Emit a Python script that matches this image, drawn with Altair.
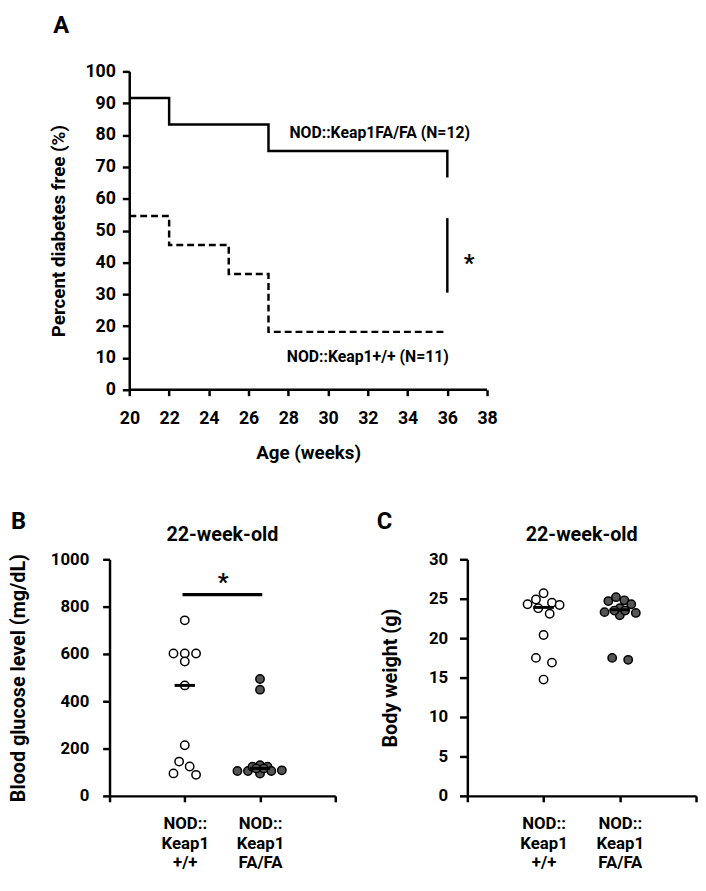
import altair as alt
import pandas as pd

FONT = "Roboto, Liberation Sans, DejaVu Sans, sans-serif"

# ---------------- Panel A: survival curves ----------------
fa_weeks = [20, 22, 27, 36, 36]
fa_free = [91.67, 83.33, 75.0, 75.0, 66.67]
wt_weeks = [20, 22, 25, 27, 36]
wt_free = [54.55, 45.45, 36.36, 18.18, 18.18]
a_x_ticks = [20, 22, 24, 26, 28, 30, 32, 34, 36, 38]
a_y_ticks = [0, 10, 20, 30, 40, 50, 60, 70, 80, 90, 100]
a_x_axis_line = [20, 38]
a_labels = ["NOD::Keap1FA/FA (N=12)", "NOD::Keap1+/+ (N=11)"]
a_label_x = [32.6, 32.0]
a_label_y = [80.7, 10.3]
a_sig_x = [36.0]
a_sig_lo = [30.5]
a_sig_hi = [53.9]
a_star_x = [37.1]
a_star_y = [39.5]

# ---------------- Panels B and C: dot plots ----------------
groups = ["+/+", "FA/FA"]
group_pos = [1, 2]
glu_wt = [742, 602, 602, 602, 568, 467, 214, 145, 124, 95, 89]
glu_wt_dx = [0, -0.15, 0, 0.15, 0, 0, 0, -0.075, 0.065, -0.15, 0.15]
glu_fa = [494, 449, 105, 105, 123, 130, 123, 105, 108, 94, 116, 116]
glu_fa_dx = [0, 0, -0.30, -0.16, -0.10, 0, 0.10, 0.15, 0.29, 0, -0.05, 0.05]
glu_median = [467, 116]

bw_wt = [25.7, 24.9, 24.5, 24.3, 24.2, 23.8, 23.1, 20.4, 17.5, 16.9, 14.75]
bw_wt_dx = [0, -0.10, 0.11, -0.21, 0.21, -0.07, 0.08, 0, -0.10, 0.11, 0]
bw_fa = [24.7, 25.2, 24.8, 24.3, 23.3, 23.8, 22.9, 23.2, 17.5, 17.25, 23.5, 23.5]
bw_fa_dx = [-0.15, -0.05, 0.06, 0.15, -0.20, 0, 0, 0.21, -0.10, 0.11, -0.07, 0.07]
bw_median = [23.9, 23.6]

b_sig_x = [0.97]
b_sig_x2 = [2.03]
b_sig_y = [851]
b_star_x = [1.51]
b_star_y = [900]

BLACK = "black"


def letter(ch, x, y, size=24):
    return alt.Chart(pd.DataFrame({"t": [ch]})).mark_text(
        align="left", baseline="top", font=FONT, fontSize=size,
        fontWeight="bold", color=BLACK
    ).encode(x=alt.value(x), y=alt.value(y), text="t:N")


# ---------- Panel A ----------
# plot area starts 1 week left of the y axis so that the axis lines up with panel B's layout
W_A, H_A = 383, 323
xa = alt.X("week:Q", scale=alt.Scale(domain=[19, 38], nice=False, zero=False),
           axis=alt.Axis(values=a_x_ticks, title="Age (weeks)", labelFontSize=18,
                         titleFontSize=19, labelPadding=14, titlePadding=17,
                         tickSize=6, labelFlush=False, domain=False,
                         titleX=(W_A + 20) / 2))
ya = alt.Y("free:Q", scale=alt.Scale(domain=[0, 100], nice=False),
           axis=alt.Axis(values=a_y_ticks, title="Percent diabetes free (%)",
                         labelFontSize=18, titleFontSize=19, labelPadding=7,
                         titlePadding=17, tickSize=7, offset=-20))

df_fa = pd.DataFrame({"week": fa_weeks, "free": fa_free, "o": list(range(len(fa_weeks)))})
df_wt = pd.DataFrame({"week": wt_weeks, "free": wt_free, "o": list(range(len(wt_weeks)))})

line_fa = alt.Chart(df_fa).mark_line(interpolate="step-after", color=BLACK, strokeWidth=2.5).encode(
    x=xa, y=ya, order="o:Q")
line_wt = alt.Chart(df_wt).mark_line(interpolate="step-after", color=BLACK, strokeWidth=2.5,
                                     strokeDash=[7, 4]).encode(x=xa, y=ya, order="o:Q")

df_axis = pd.DataFrame({"week": [a_x_axis_line[0]], "week2": [a_x_axis_line[1]], "free": [0]})
x_line = alt.Chart(df_axis).mark_rule(color=BLACK, strokeWidth=2.5).encode(
    x=xa, x2="week2:Q", y=ya)

df_lab = pd.DataFrame({"week": a_label_x, "free": a_label_y, "label": a_labels})
labels_a = alt.Chart(df_lab).mark_text(font=FONT, fontSize=16, fontWeight="bold",
                                       color=BLACK, baseline="middle").encode(
    x=xa, y=ya, text="label:N")

df_sig_a = pd.DataFrame({"week": a_sig_x, "free": a_sig_lo, "free2": a_sig_hi})
sig_a = alt.Chart(df_sig_a).mark_rule(color=BLACK, strokeWidth=2.5).encode(
    x=xa, y=ya, y2="free2:Q")
df_star_a = pd.DataFrame({"week": a_star_x, "free": a_star_y, "s": ["*"]})
star_a = alt.Chart(df_star_a).mark_text(font=FONT, fontSize=24, fontWeight="bold",
                                        color=BLACK, baseline="middle").encode(
    x=xa, y=ya, text="s:N")

panel_a = alt.layer(x_line, line_fa, line_wt, labels_a, sig_a, star_a,
                    letter("A", -57, -58)).properties(width=W_A, height=H_A)


# ---------- Panels B / C ----------
def dot_panel(v_wt, dx_wt, v_fa, dx_fa, med, ymax, ystep, ytitle, ch, W, H,
              ylab_pad, ytitle_pad, ytick, letter_x, extra=None):
    rows = []
    for v, d in zip(v_wt, dx_wt):
        rows.append({"grp": group_pos[0], "dx": d, "val": v, "kind": groups[0]})
    for v, d in zip(v_fa, dx_fa):
        rows.append({"grp": group_pos[1], "dx": d, "val": v, "kind": groups[1]})
    df = pd.DataFrame(rows)

    x_axis = alt.Axis(values=[0, 1, 2, 3], title=None, labelFontSize=17,
                      labelLineHeight=20, labelPadding=14, tickSize=6,
                      labelOverlap=False, labelFlush=False,
                      labelExpr="datum.value == 1 ? ['NOD::', 'Keap1', '+/+'] : "
                                "(datum.value == 2 ? ['NOD::', 'Keap1', 'FA/FA'] : '')")
    xs = alt.Scale(domain=[0, 3], nice=False, zero=False)
    ys = alt.Scale(domain=[0, ymax], nice=False)
    y_axis = alt.Axis(values=list(range(0, ymax + 1, ystep)), title=ytitle, format="d",
                      labelFontSize=17, titleFontSize=20, labelPadding=ylab_pad,
                      titlePadding=ytitle_pad, tickSize=ytick)

    pts = alt.Chart(df).transform_calculate(xpos="datum.grp + datum.dx").mark_point(
        shape="circle", filled=True, size=72, stroke=BLACK, strokeWidth=1.5, opacity=1
    ).encode(
        x=alt.X("xpos:Q", scale=xs, axis=x_axis),
        y=alt.Y("val:Q", scale=ys, axis=y_axis),
        fill=alt.Fill("kind:N", scale=alt.Scale(domain=groups, range=["white", "#555555"]),
                      legend=None),
    )
    dfm = pd.DataFrame({"grp": group_pos, "val": med})
    meds = alt.Chart(dfm).transform_calculate(
        xpos="datum.grp - 0.135", xpos2="datum.grp + 0.135"
    ).mark_rule(color=BLACK, strokeWidth=3).encode(
        x=alt.X("xpos:Q", scale=xs, axis=x_axis), x2="xpos2:Q",
        y=alt.Y("val:Q", scale=ys, axis=y_axis))

    title = alt.Chart(pd.DataFrame({"t": ["22-week-old"]})).mark_text(
        align="center", baseline="middle", font=FONT, fontSize=20,
        fontWeight="bold", color=BLACK
    ).encode(x=alt.value(W / 2), y=alt.value(-25), text="t:N")

    layers = [pts, meds]
    if extra is not None:
        layers += extra(xs, ys, x_axis, y_axis)
    layers += [title, letter(ch, letter_x, -50, 24)]
    return alt.layer(*layers).properties(width=W, height=H)


def glucose_extra(xs, ys, x_axis, y_axis):
    dfs = pd.DataFrame({"xpos": b_sig_x, "xpos2": b_sig_x2, "val": b_sig_y})
    bar = alt.Chart(dfs).mark_rule(color=BLACK, strokeWidth=3.3).encode(
        x=alt.X("xpos:Q", scale=xs, axis=x_axis), x2="xpos2:Q",
        y=alt.Y("val:Q", scale=ys, axis=y_axis))
    dft = pd.DataFrame({"xpos": b_star_x, "val": b_star_y, "s": ["*"]})
    star = alt.Chart(dft).mark_text(font=FONT, fontSize=24, fontWeight="bold",
                                    color=BLACK, baseline="middle").encode(
        x=alt.X("xpos:Q", scale=xs, axis=x_axis),
        y=alt.Y("val:Q", scale=ys, axis=y_axis), text="s:N")
    return [bar, star]


panel_b = dot_panel(glu_wt, glu_wt_dx, glu_fa, glu_fa_dx, glu_median, 1000, 200,
                    "Blood glucose level (mg/dL)", "B", 229, 240, 14, 22, 7, -100,
                    extra=glucose_extra)
panel_c = dot_panel(bw_wt, bw_wt_dx, bw_fa, bw_fa_dx, bw_median, 30, 5,
                    "Body weight (g)", "C", 232, 240, 12, 28, 8, -92)

bottom = alt.hconcat(panel_b, panel_c, spacing=40)
chart = alt.vconcat(panel_a, bottom, spacing=48).properties(padding=0).configure_view(
    stroke=None
).configure_axis(
    domainColor=BLACK, domainWidth=2.5, tickColor=BLACK, tickWidth=2.5, grid=False,
    labelFont=FONT, labelFontWeight="bold", labelColor=BLACK,
    titleFont=FONT, titleFontWeight="bold", titleColor=BLACK,
)

chart.save("out.html", embed_options={"renderer": "svg", "actions": False})
